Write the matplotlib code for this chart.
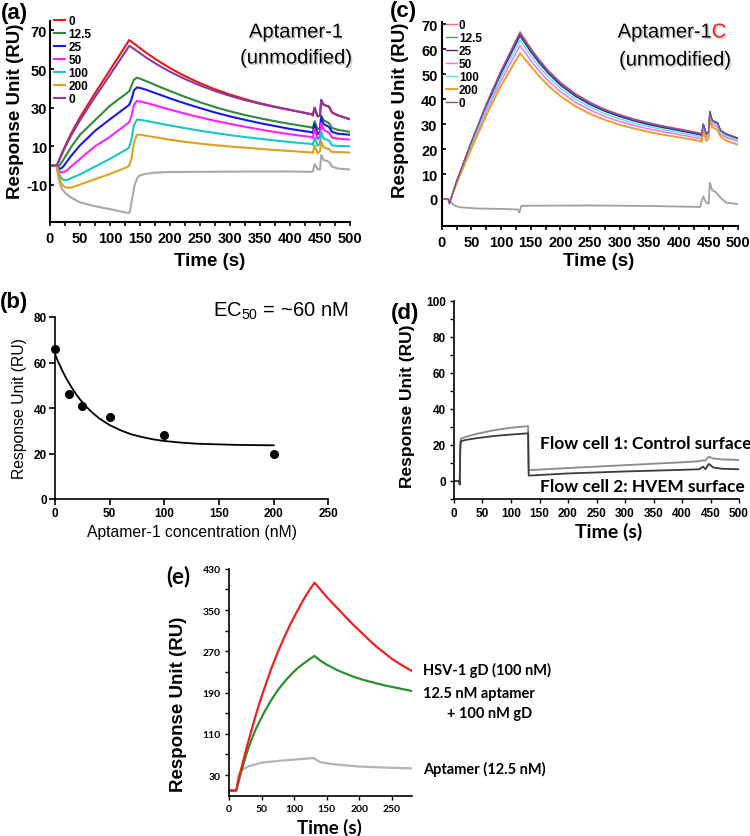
import matplotlib
matplotlib.use('Agg')
import matplotlib.pyplot as plt
import matplotlib.patheffects as pe
from matplotlib.ticker import MultipleLocator

ARIAL = 'Liberation Sans'
CALIBRI = 'Lato'
plt.rcParams['font.family'] = ARIAL
plt.rcParams['mathtext.default'] = 'regular'

W, H = 750, 837

# ---------------- data ----------------
conc_labels = ['0', '12.5', '25', '50', '100', '200', '0']

# (a) Aptamer-1 sensorgrams
t_a = [0, 11, 14, 18, 22, 28, 35, 50, 75, 100, 128, 132, 136, 140, 145, 150, 160, 175, 185, 200,
       225, 250, 275, 300, 325, 350, 375, 400, 436, 438, 441, 446, 450, 452, 456, 465, 470, 480, 500]
a_0 = [0, 0, 2, 5, 8, 12, 16.5, 25, 37.5, 49.5, 63, 65, 64, 63.2, 62, 60.8, 58.5, 55.3, 53.3, 50.5,
       46.3, 42.7, 39.5, 36.8, 34.4, 32.3, 30.5, 28.9, 26.6, 26, 30, 25.5, 26, 34, 31.5, 30.5, 27.5, 26, 24]
a_12 = [0, 0, -0.5, 1, 3, 6, 9.5, 16, 23.5, 31, 37.5, 38.5, 41.5, 44.5, 45.5, 45, 43.8, 41.8, 40.5, 38.6,
        35.6, 32.8, 30.3, 28.1, 26.2, 24.5, 23, 21.6, 19.8, 19.3, 23, 18.8, 19.5, 26, 23.5, 22, 19.5, 18.5, 17.5]
a_25 = [0, 0, -1.5, -1.5, -0.5, 2, 5, 10.5, 18, 24, 30.5, 31.5, 34.5, 39, 40.5, 40.2, 39.3, 37.6, 36.5, 34.8,
        32.2, 29.8, 27.5, 25.5, 23.7, 22, 20.5, 19, 17.3, 16.8, 21.5, 16.3, 17.5, 25, 21.5, 20, 17.5, 16.5, 16]
a_50 = [0, 0, -2.5, -3.5, -3.5, -2.5, -0.5, 3.5, 10, 15, 21.5, 22.5, 26, 31.5, 33.5, 33.2, 32.5, 31.2, 30.3, 29,
        26.9, 25, 23.2, 21.6, 20.1, 18.7, 17.4, 16.2, 14.8, 14.3, 19, 13.8, 15, 22, 18.5, 17, 14.5, 14, 13.5]
a_100 = [0, 0, -3.5, -6, -7.3, -7.5, -6.5, -4.5, -0.5, 3.5, 8.5, 9.5, 14, 21, 23.8, 23.7, 23.2, 22.3, 21.7, 20.8,
         19.4, 18.1, 16.9, 15.8, 14.8, 13.9, 13, 12.2, 11.2, 10.8, 14.5, 10.3, 11.5, 17.5, 14, 13, 10.5, 10.2, 10]
a_200 = [0, 0, -4, -8.5, -10.5, -11.5, -11.3, -9.8, -7, -4.3, -0.8, 0, 4, 12, 16, 16, 15.5, 14.7, 14.2, 13.4,
         12.3, 11.4, 10.6, 9.9, 9.3, 8.7, 8.1, 7.6, 6.8, 6.6, 10.5, 6.3, 7.5, 12.5, 9.5, 8.5, 7, 7, 6.8]
a_0b = [0, 0, 1.8, 4.6, 7.4, 11.2, 15.5, 23.5, 35.5, 47, 60, 62, 61.2, 60.4, 59.3, 58.2, 56, 53, 51.2, 48.6,
        44.8, 41.5, 38.6, 36.1, 33.9, 32, 30.3, 28.8, 26.6, 26, 30, 25.5, 26, 34, 31.5, 30.5, 27.5, 26, 24]
t_a_gray = [0, 11, 13, 16, 20, 25, 35, 50, 75, 100, 130, 133, 137, 141, 146, 150, 160, 175,
            200, 300, 400, 436, 438, 441, 446, 450, 452, 456, 465, 470, 480, 500]
a_gray = [0, 0, -4, -9, -12, -14, -16.5, -19, -21, -22.5, -24.5, -24, -17, -10, -6, -5, -4.2, -3.6,
          -3.3, -3.1, -3, -3.2, -3, 0.8, -1.8, -2, 5.5, 3, 2, -0.5, -1.5, -2]

# (c) Aptamer-1C sensorgrams
t_c = [0, 11, 13, 25, 50, 75, 100, 132, 150, 165, 180, 200, 225, 250, 275, 300, 325, 350, 375, 400,
       436, 438, 441, 446, 450, 452, 456, 465, 470, 480, 500]
c_0 = [0, 0, -1.5, 7, 23, 38, 51.5, 67, 60.5, 55.7, 51.5, 46.8, 42.3, 38.8, 36, 33.8, 32, 30.5, 29.2, 28.1,
       26.4, 25.6, 30, 26, 27, 35, 31.5, 30.5, 27.5, 26, 24.3]
c_12 = [0, 0, -1.5, 6.9, 22.7, 37.4, 50.7, 66, 59.6, 54.9, 50.7, 46.1, 41.7, 38.2, 35.5, 33.3, 31.5, 30, 28.8, 27.7,
        26, 25.2, 29.6, 25.7, 26.7, 34.5, 31, 30, 27.2, 25.7, 24]
c_25 = [0, 0, -1.5, 6.8, 22.4, 37, 50.2, 65.3, 59, 54.3, 50.2, 45.6, 41.2, 37.8, 35.1, 33, 31.2, 29.7, 28.5, 27.4,
        25.7, 25.4, 30, 26, 27, 35, 31.5, 30.5, 27.5, 26, 24.3]
c_50 = [0, 0, -1.5, 6.4, 21.1, 34.9, 47.3, 61.5, 55.5, 51.1, 47.3, 43, 38.8, 35.6, 33, 31, 29.4, 28, 26.8, 25.8,
        24.2, 24, 28.3, 24.5, 25.5, 33, 29.8, 28.8, 26, 24.5, 23]
c_100 = [0, 0, -1.5, 6.6, 21.8, 36, 48.8, 63.5, 57.4, 52.8, 48.8, 44.4, 40.1, 36.8, 34.1, 32, 30.3, 28.9, 27.7, 26.6,
         25, 24.7, 29, 25.3, 26.2, 34, 30.6, 29.6, 26.8, 25.2, 23.5]
c_200 = [0, 0, -1.5, 6.2, 20.2, 33.4, 45.3, 58.4, 53.2, 49, 45.3, 41.2, 37.2, 34.1, 31.7, 29.7, 28.2, 26.8, 25.7, 24.7,
         23.2, 22.7, 27, 23.3, 24.2, 32, 28.7, 27.7, 25, 23.3, 21.7]
c_0b = [0, 0, -2, 7, 22.8, 37.7, 51.1, 66.5, 60.1, 55.3, 51.1, 46.5, 42, 38.5, 35.7, 33.6, 31.8, 30.3, 29, 27.9,
        26.2, 25.4, 29.8, 25.9, 26.9, 34.8, 31.4, 30.4, 27.4, 25.9, 24.2]
t_c_gray = [0, 11, 13, 20, 30, 60, 100, 128, 131, 134, 150, 250, 350,
            436, 438, 441, 446, 450, 452, 456, 462, 470, 480, 500]
c_gray = [0, 0, -0.5, -2.5, -3.3, -3.8, -4, -4.2, -5.5, -2.8, -2.7, -2.6, -2.8,
          -3.2, -1, 1, -1.5, -2, 6.5, 3.5, 2.8, 0.5, -1.5, -2]

# (b) dose response
conc = [0, 12.5, 25, 50, 100, 200]
resp = [66, 46, 41, 36, 28, 20]
fit_x = [0, 3, 6, 9, 12, 15, 18, 22, 26, 30, 35, 40, 45, 50, 60, 70, 80, 90, 100, 115, 130, 150, 170, 200]
fit_y = [63.7, 60.2, 57.1, 54.2, 51.6, 49.2, 47, 44.3, 42, 39.9, 37.6, 35.6, 34, 32.5, 30.2, 28.4,
         27.2, 26.2, 25.5, 24.8, 24.3, 24, 23.75, 23.6]

# (d) flow cells
t_d = [0, 9, 10, 11, 12, 20, 40, 70, 100, 130, 131, 200, 300, 400, 430, 437, 441, 447, 455, 470, 500]
d_fc1 = [0, 0, -2, 20, 23.5, 24.5, 26.2, 28.2, 29.6, 30.5, 6, 7.2, 8.8, 10.4, 11, 11.5, 11.3, 13.5, 12.5, 12, 11.7]
d_fc2 = [0, 0, -2, 18, 22, 22.8, 23.8, 25, 25.8, 26.5, 3, 4.2, 5.3, 6.2, 6.5, 8, 6.5, 9.5, 7.5, 6.8, 6.5]

# (e) gD competition
t_e = [0, 10, 11, 15, 20, 27, 34, 41, 48, 55, 65, 75, 85, 95, 105, 115, 125, 131,
       140, 150, 165, 180, 190, 200, 213, 226, 238, 250, 265, 280]
e_gd = [0, 0, 0, 22, 49, 83, 115, 146, 175, 201, 237, 269, 298, 325, 349, 372, 392, 403,
        390, 375, 355, 335, 322, 310, 294, 279, 267, 255, 243, 232]
e_mix = [0, 0, 0, 20, 42, 72, 97, 119, 137, 154, 176, 195, 211, 225, 237, 247, 256, 261,
         252, 244, 234, 226, 221, 217, 212, 208, 204, 201, 197, 193]
t_e_apt = [0, 10, 12, 14, 17, 20, 30, 50, 80, 110, 130, 132, 140, 160, 200, 250, 280]
e_apt = [0, 0, 5, 28, 36, 40, 47, 54, 58, 61, 63, 61, 55, 51, 46.5, 44, 43]

a_colors = ['#e8181c', '#2e8b3a', '#1a1adf', '#ff22ff', '#18c8c8', '#e0a020', '#8b3a9b']
c_colors = ['#ff6a6a', '#5aa05a', '#2a2aa0', '#ff66ff', '#5de0e0', '#e8a030', '#80509a']

# pixel boxes (left, top, right, bottom)
BOX_A = (50, 21.7, 350, 222.7)
BOX_C = (441.7, 22.7, 738.3, 226.7)
BOX_B = (55, 318, 328.3, 500)
BOX_D = (454, 302, 739, 500)
BOX_E = (229, 569.8, 411.7, 796.7)

fig = plt.figure(figsize=(W / 100, H / 100), dpi=100)


def panel(box, lw=1.2):
    l, t, r, b = box
    ax = fig.add_axes([l / W, 1 - b / H, (r - l) / W, (b - t) / H])
    ax.spines[['top', 'right']].set_visible(False)
    ax.spines[['left', 'bottom']].set_linewidth(lw)
    return ax


def frac(box, x, y):
    l, t, r, b = box
    return (x - l) / (r - l), (b - y) / (b - t)


def ftext(x, y, s, **kw):
    return fig.text(x / W, 1 - y / H, s, **kw)


def ticks(ax, xt, yt, family, size):
    ax.set_xticks(xt, [f'{v:g}' for v in xt], family=family, weight='bold', size=size)
    ax.set_yticks(yt, [f'{v:g}' for v in yt], family=family, weight='bold', size=size)


def labels(ax, box, xl, xpos, yl, ypos, xkw, ykw):
    ax.set_xlabel(xl, va='center', **xkw)
    ax.xaxis.set_label_coords(*frac(box, *xpos))
    ax.set_ylabel(yl, va='center', ha='center', **ykw)
    ax.yaxis.set_label_coords(*frac(box, *ypos))


shadow = [pe.withSimplePatchShadow(offset=(1.2, -1.2), shadow_rgbFace='0.55', alpha=0.4)]

# ---------------- (a) ----------------
ax = panel(BOX_A, 1.5)
ax.plot(t_a_gray, a_gray, color='#a9a9a9', lw=1.5)
for vals, col, lab in zip([a_0, a_12, a_25, a_50, a_100, a_200, a_0b], a_colors, conc_labels):
    ax.plot(t_a, vals, color=col, lw=1.5, label=lab)
ax.set_xlim(0, 500)
ax.set_ylim(-29, 75)
ticks(ax, list(range(0, 501, 50)), [-10, 10, 30, 50, 70], ARIAL, 10.5)
ax.xaxis.set_minor_locator(MultipleLocator(25))
ax.tick_params(axis='x', which='both', length=3, width=1.2, pad=4)
ax.tick_params(axis='y', direction='in', length=3, width=1.2, pad=2)
labels(ax, BOX_A, 'Time (s)', (209.5, 262), 'Response Unit (RU)', (16, 111),
       dict(size=13.5, weight='bold'), dict(size=13.5, weight='bold'))
ax.legend(loc='upper left', bbox_to_anchor=frac(BOX_A, 54, 16), frameon=False,
          prop=dict(family=ARIAL, weight='bold', size=8.5), handlelength=0.9,
          handletextpad=0.3, labelspacing=0.08, borderpad=0, borderaxespad=0)
ftext(296, 33, 'Aptamer-1', ha='center', va='center', size=14.5, path_effects=shadow)
ftext(296, 59, '(unmodified)', ha='center', va='center', size=14.5, path_effects=shadow)

# ---------------- (c) ----------------
ax = panel(BOX_C, 1.5)
ax.plot(t_c_gray, c_gray, color='#a0a0a0', lw=1.3)
for vals, col, lab in zip([c_0, c_12, c_25, c_50, c_100, c_200, c_0b], c_colors, conc_labels):
    ax.plot(t_c, vals, color=col, lw=1.4 if lab == '200' else 1.0, label=lab)
ax.set_xlim(0, 500)
ax.set_ylim(-10.7, 71)
ticks(ax, list(range(0, 501, 50)), list(range(0, 71, 10)), ARIAL, 10.5)
ax.xaxis.set_minor_locator(MultipleLocator(25))
ax.tick_params(axis='x', which='both', length=3, width=1.2, pad=4)
ax.tick_params(axis='y', direction='in', length=3, width=1.2, pad=3)
labels(ax, BOX_C, 'Time (s)', (599, 262), 'Response Unit (RU)', (400.5, 110),
       dict(size=13.5, weight='bold'), dict(size=13.5, weight='bold'))
ax.legend(loc='upper left', bbox_to_anchor=frac(BOX_C, 446, 20), frameon=False,
          prop=dict(family=ARIAL, weight='bold', size=8.5), handlelength=0.9,
          handletextpad=0.2, labelspacing=0.08, borderpad=0, borderaxespad=0)
t1 = ftext(617.7, 33, 'Aptamer-1', ha='left', va='center', size=14.5, path_effects=shadow)
ax.annotate('C', xy=(1, 0), xycoords=t1, va='bottom', ha='left', size=14.5,
            color='#ff1a1a', path_effects=shadow)
ftext(675, 61, '(unmodified)', ha='center', va='center', size=14.5, path_effects=shadow)

# ---------------- (b) ----------------
ax = panel(BOX_B, 1.2)
ax.plot(fit_x, fit_y, color='black', lw=1.3)
ax.plot(conc, resp, 'o', color='black', ms=5.5, clip_on=False)
ax.set_xlim(0, 250)
ax.set_ylim(0, 80)
ticks(ax, list(range(0, 251, 50)), list(range(0, 81, 20)), ARIAL, 8.5)
ax.tick_params(length=4, width=1.2, pad=2)
labels(ax, BOX_B, 'Aptamer-1 concentration (nM)', (192, 533), 'Response Unit (RU)', (19, 408.5),
       dict(size=11.3), dict(size=11.3))
ftext(213, 311, 'EC$_{50}$ = ~60 nM', ha='left', va='center', size=14.5)

# ---------------- (d) ----------------
ax = panel(BOX_D, 1.2)
ax.plot(t_d, d_fc1, color='#8a8a8a', lw=1.3)
ax.plot(t_d, d_fc2, color='#3c3c3c', lw=1.3)
ax.set_xlim(0, 500)
ax.set_ylim(-10, 100)
ticks(ax, list(range(0, 501, 50)), list(range(0, 101, 20)), ARIAL, 8.5)
ax.yaxis.set_minor_locator(MultipleLocator(10))
ax.tick_params(which='both', length=3, width=1.0, pad=3)
labels(ax, BOX_D, 'Time (s)', (608.5, 531.5), 'Response Unit (RU)', (407.5, 406.5),
       dict(size=14, weight='bold', family=CALIBRI), dict(size=12.5, weight='bold'))
ftext(540, 444, 'Flow cell 1: Control surface', ha='left', va='center', size=12.5,
      weight='bold', family=CALIBRI)
ftext(540, 487, 'Flow cell 2: HVEM surface', ha='left', va='center', size=12.5,
      weight='bold', family=CALIBRI)

# ---------------- (e) ----------------
ax = panel(BOX_E, 1.2)
ax.plot(t_e_apt, e_apt, color='#b4b4b4', lw=1.6)
ax.plot(t_e, e_mix, color='#2f8f2f', lw=1.6)
ax.plot(t_e, e_gd, color='#ee2020', lw=1.6)
ax.set_xlim(0, 280)
ax.set_ylim(-10, 430)
ticks(ax, list(range(0, 251, 50)), [30, 110, 190, 270, 350, 430], CALIBRI, 7.5)
ax.set_yticks([70, 150, 230, 310, 390], minor=True)
ax.tick_params(which='both', length=3, width=1.0, pad=3)
labels(ax, BOX_E, 'Time (s)', (329.5, 827.5), 'Response Unit (RU)', (178, 704),
       dict(size=13.5, weight='bold', family=CALIBRI), dict(size=13.5, weight='bold'))
for x, y, s in [(423, 670, 'HSV-1 gD (100 nM)'), (423, 694, '12.5 nM aptamer'),
                (447, 714.5, '+ 100 nM gD'), (423, 769.5, 'Aptamer (12.5 nM)')]:
    ftext(x, y, s, ha='left', va='center', size=10.5, weight='bold', family=CALIBRI)

# panel letters
for x, y, s, fam in [(14, 13, '(a)', ARIAL), (14, 303, '(b)', ARIAL), (403, 12, '(c)', ARIAL),
                     (405, 313, '(d)', ARIAL), (178, 577, '(e)', CALIBRI)]:
    ftext(x, y, s, ha='center', va='center', size=16, weight='bold', family=fam)

fig.savefig('out.png', dpi=100)
